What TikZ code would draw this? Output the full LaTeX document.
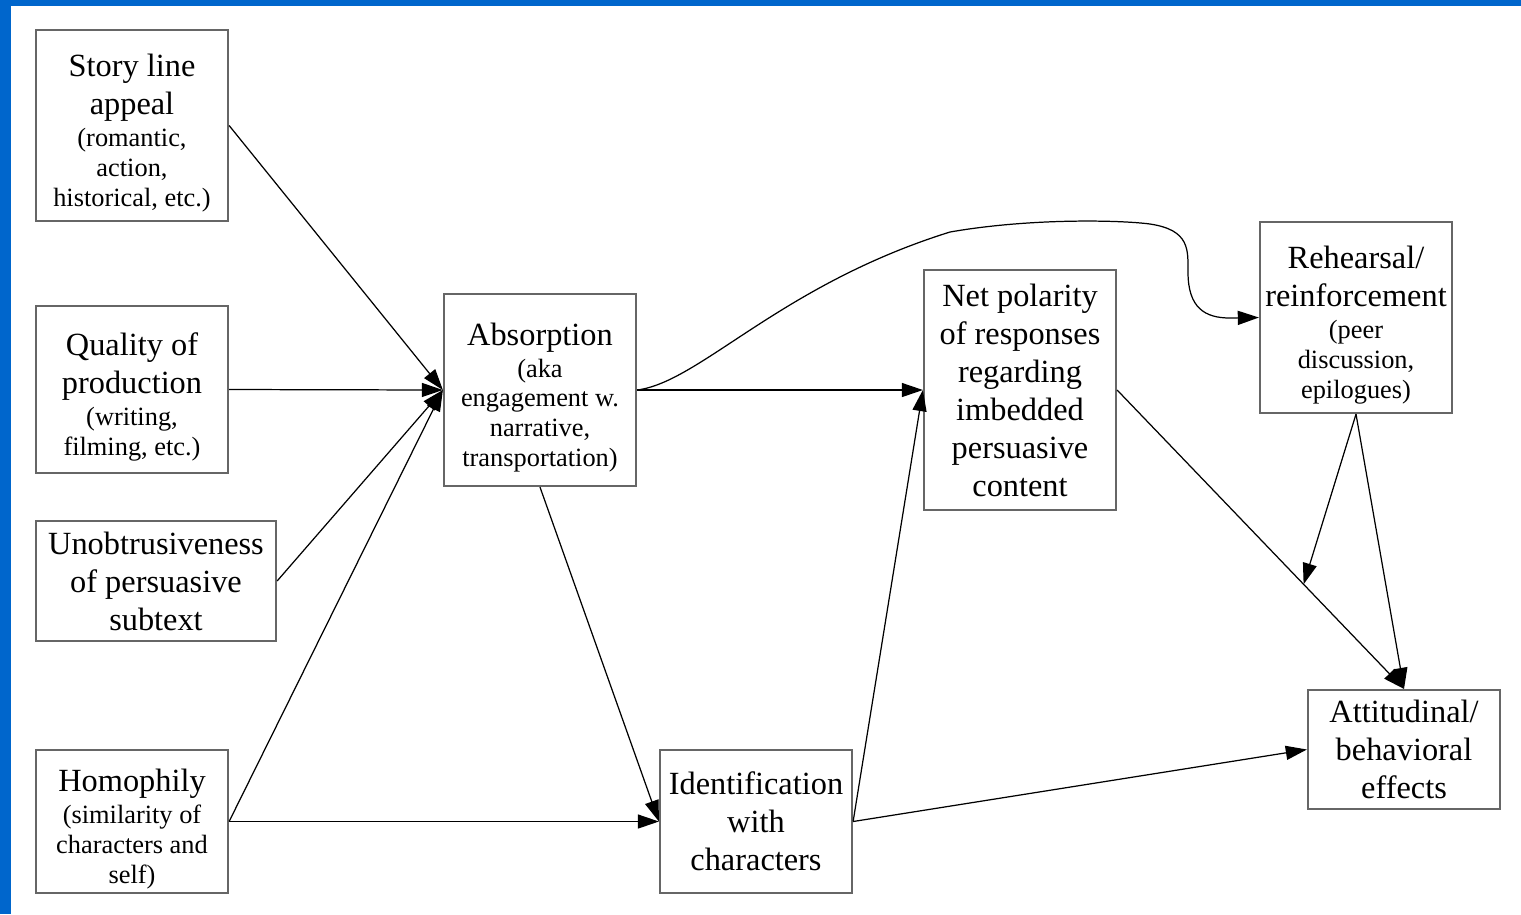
\documentclass[tikz,border=0pt]{standalone}
\usepackage{fontspec}
\setmainfont{Liberation Serif}
\usetikzlibrary{arrows.meta,calc}
\definecolor{framblue}{RGB}{0,102,204}
\newcommand{\lil}{\fontsize{7.5}{8.5}\selectfont}
\newcommand{\padtop}{\rule{0pt}{10.6pt}}
\begin{document}
\begin{tikzpicture}[x=0.01cm, y=-0.01cm,
    box/.style={draw=black!60, line width=0.6pt, inner sep=0pt, align=center,
        minimum width=1.92cm, font=\fontsize{9.2}{10.8}\selectfont},
    mixbox/.style={box, font=\fontsize{9.2}{8.5}\selectfont},
    arr/.style={-{Triangle[length=6pt,width=4pt]}, line width=0.35pt}]

    % Frame
    \useasboundingbox (0,0) rectangle (1521,914);
    \fill[white] (0,0) rectangle (1521,914);
    \fill[framblue] (0,0) rectangle (1521,6);
    \fill[framblue] (0,0) rectangle (11,914);

    % Inputs
    \node[mixbox, minimum height=1.91cm] (story) at (132,125.5)
        {\padtop Story line\\[2.3pt]appeal\\[0.6pt]\lil (romantic,\\\lil action,\\\lil historical, etc.)};
    \node[mixbox, minimum height=1.67cm] (quality) at (132,389.5)
        {\padtop Quality of\\[2.3pt]production\\[0.6pt]\lil (writing,\\\lil filming, etc.)};
    \node[box, minimum width=2.4cm, minimum height=1.2cm] (unob) at (156,581)
        {Unobtrusiveness\\of persuasive\\subtext};
    \node[mixbox, minimum height=1.43cm] (homo) at (132,821.5)
        {\padtop Homophily\\[0.6pt]\lil (similarity of\\\lil characters and\\\lil self)};

    % Middle
    \node[mixbox, minimum height=1.92cm] (abs) at (540,390)
        {\padtop Absorption\\[0.6pt]\lil (aka\\\lil engagement w.\\\lil narrative,\\\lil transportation)};
    \node[box, minimum height=1.43cm] (ident) at (756,821.5)
        {Identification\\with\\characters};
    \node[box, minimum height=2.4cm] (net) at (1020,390)
        {Net polarity\\of responses\\regarding\\imbedded\\persuasive\\content};

    % Outputs
    \node[mixbox, minimum height=1.91cm] (reh) at (1356,317.5)
        {\padtop Rehearsal/\\[2.3pt]reinforcement\\[0.6pt]\lil (peer\\\lil discussion,\\\lil epilogues)};
    \node[box, minimum height=1.19cm] (att) at (1404,749.5)
        {Attitudinal/\\behavioral\\effects};

    % Arrows
    \draw[arr] (story.east) -- (abs.west);
    \draw[arr] (quality.east) -- (abs.west);
    \draw[arr] (unob.east) -- (abs.west);
    \draw[arr] (homo.east) -- (abs.west);
    \draw[arr] (homo.east) -- (ident.west);
    \draw[arr] (abs.east) -- (net.west);
    \draw[arr] (abs.south) -- (ident.west);
    \draw[arr] (ident.east) -- (net.west);
    \draw[arr] (ident.east) -- (att.west);
    \draw[arr] (net.east) -- (att.north);
    \draw[arr] (reh.south) -- (att.north);
    \coordinate (meet) at ($(net.east)!0.65!(att.north)$);
    \draw[arr] (reh.south) -- (meet);

    % Curve
    \draw[arr] (abs.east) .. controls (700,382) and (780,285) .. (950,232)
        .. controls (1030,218) and (1120,220) .. (1150,224)
        .. controls (1190,230) and (1188,250) .. (1188,272)
        .. controls (1188,308) and (1205,318) .. (1230,318) -- (reh.west);

\end{tikzpicture}
\end{document}
